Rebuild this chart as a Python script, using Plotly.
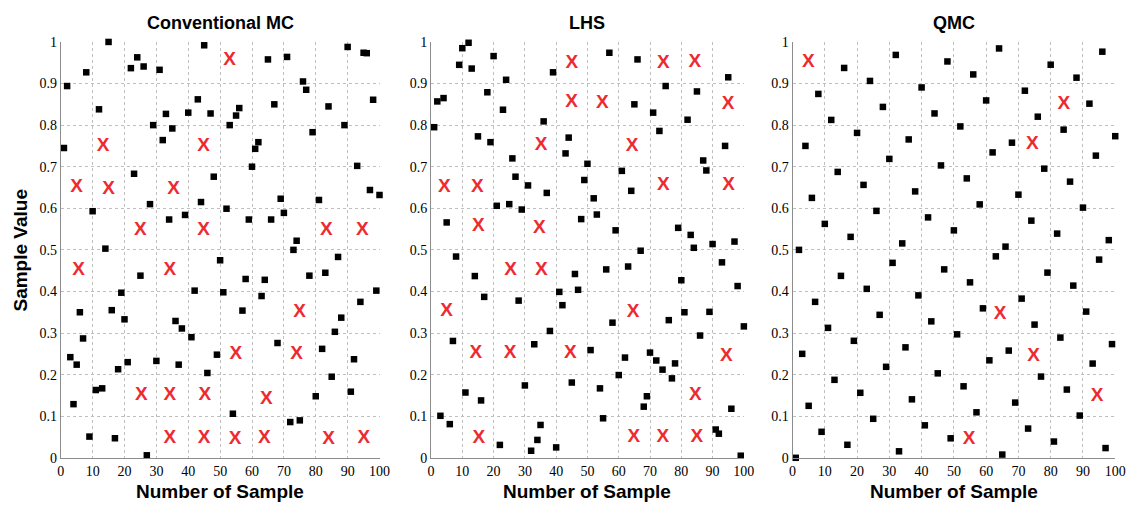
import plotly.graph_objects as go

sample_no = list(range(1, 101))

mc_values = [0.745, 0.894, 0.242, 0.129, 0.224, 0.35, 0.287, 0.927, 0.051, 0.593,
             0.163, 0.838, 0.167, 0.503, 1.0, 0.355, 0.047, 0.213, 0.397, 0.333,
             0.23, 0.937, 0.683, 0.963, 0.438, 0.941, 0.006, 0.61, 0.80, 0.233,
             0.933, 0.764, 0.827, 0.573, 0.792, 0.329, 0.224, 0.311, 0.584, 0.83,
             0.29, 0.402, 0.862, 0.615, 0.992, 0.204, 0.828, 0.676, 0.248, 0.475,
             0.398, 0.599, 0.80, 0.106, 0.823, 0.841, 0.354, 0.43, 0.573, 0.70,
             0.743, 0.759, 0.389, 0.428, 0.958, 0.573, 0.85, 0.276, 0.623, 0.589,
             0.964, 0.086, 0.50, 0.522, 0.09, 0.905, 0.885, 0.438, 0.783, 0.148,
             0.62, 0.262, 0.445, 0.845, 0.195, 0.303, 0.483, 0.337, 0.80, 0.988,
             0.159, 0.237, 0.702, 0.375, 0.974, 0.973, 0.644, 0.861, 0.402, 0.632]

lhs_values = [0.795, 0.857, 0.101, 0.865, 0.566, 0.081, 0.281, 0.484, 0.945, 0.985,
              0.157, 0.998, 0.936, 0.437, 0.773, 0.138, 0.387, 0.879, 0.759, 0.966,
              0.606, 0.031, 0.837, 0.909, 0.61, 0.72, 0.676, 0.378, 0.597, 0.174,
              0.655, 0.017, 0.273, 0.043, 0.079, 0.809, 0.637, 0.305, 0.927, 0.025,
              0.399, 0.367, 0.732, 0.770, 0.181, 0.442, 0.404, 0.574, 0.668, 0.707,
              0.259, 0.624, 0.585, 0.167, 0.095, 0.453, 0.974, 0.325, 0.547, 0.199,
              0.69, 0.241, 0.46, 0.642, 0.85, 0.958, 0.498, 0.123, 0.148, 0.253,
              0.83, 0.234, 0.786, 0.212, 0.894, 0.331, 0.191, 0.227, 0.553, 0.427,
              0.35, 0.813, 0.536, 0.505, 0.881, 0.294, 0.715, 0.691, 0.351, 0.514,
              0.068, 0.058, 0.47, 0.75, 0.915, 0.118, 0.52, 0.413, 0.005, 0.316]

qmc_values = [0.0, 0.5, 0.25, 0.75, 0.125, 0.625, 0.375, 0.875, 0.0625, 0.5625,
              0.3125, 0.8125, 0.1875, 0.6875, 0.4375, 0.9375, 0.0313, 0.5313, 0.2813, 0.7813,
              0.1563, 0.6563, 0.4063, 0.9063, 0.0938, 0.5938, 0.3438, 0.8438, 0.2188, 0.7188,
              0.4688, 0.9688, 0.0156, 0.5156, 0.2656, 0.7656, 0.1406, 0.6406, 0.3906, 0.8906,
              0.0781, 0.5781, 0.3281, 0.8281, 0.2031, 0.7031, 0.4531, 0.9531, 0.0469, 0.5469,
              0.2969, 0.7969, 0.1719, 0.6719, 0.4219, 0.9219, 0.1094, 0.6094, 0.3594, 0.8594,
              0.2344, 0.7344, 0.4844, 0.9844, 0.0078, 0.5078, 0.2578, 0.7578, 0.1328, 0.6328,
              0.3828, 0.8828, 0.0703, 0.5703, 0.3203, 0.8203, 0.1953, 0.6953, 0.4453, 0.9453,
              0.0391, 0.5391, 0.2891, 0.7891, 0.1641, 0.6641, 0.4141, 0.9141, 0.1016, 0.6016,
              0.3516, 0.8516, 0.2266, 0.7266, 0.4766, 0.9766, 0.0234, 0.5234, 0.2734, 0.7734]

# empty-cell markers "X"
mc_x_pos = [13.3, 5, 15, 35.4, 44.8, 25, 44.8, 53, 83.3, 94.6, 5.6, 34.2, 25.3, 34.2,
            45.2, 34.2, 45, 74.9, 54.9, 74, 64.5, 54.7, 63.9, 84, 95.1]
mc_x_val = [0.75, 0.65, 0.645, 0.645, 0.75, 0.547, 0.548, 0.955, 0.548, 0.548, 0.452, 0.452,
            0.151, 0.151, 0.151, 0.047, 0.047, 0.35, 0.248, 0.25, 0.141, 0.044, 0.046, 0.044, 0.046]

lhs_x_pos = [4.3, 14.8, 15.1, 35.2, 34.6, 45, 44.9, 74.3, 84.3, 54.8, 95, 64.3, 74.3, 95.1,
             5, 25.4, 35.3, 14.3, 25.3, 44.5, 15.3, 64.6, 94.4, 84.5, 64.8, 74.1, 85]
lhs_x_val = [0.65, 0.65, 0.556, 0.752, 0.552, 0.948, 0.855, 0.948, 0.95, 0.852, 0.849, 0.748,
             0.655, 0.655, 0.352, 0.452, 0.452, 0.252, 0.252, 0.251, 0.048, 0.35, 0.245,
             0.151, 0.05, 0.05, 0.05]

qmc_x_pos = [4.9, 84.1, 74.3, 64.3, 74.7, 94.4, 54.7]
qmc_x_val = [0.951, 0.851, 0.753, 0.346, 0.245, 0.148, 0.044]

titles = ["Conventional MC", "LHS", "QMC"]
x_ticks = [0, 10, 20, 30, 40, 50, 60, 70, 80, 90, 100]
y_ticks = [0, 0.1, 0.2, 0.3, 0.4, 0.5, 0.6, 0.7, 0.8, 0.9, 1]
y_tick_text = ["0", "0.1", "0.2", "0.3", "0.4", "0.5", "0.6", "0.7", "0.8", "0.9", "1"]

W, H = 1144, 516
x_domains = [(57.5, 380.5), (432.7, 749.7), (799, 1126)]
y_px = (464.3, 36.0)

panels = [(mc_values, mc_x_pos, mc_x_val), (lhs_values, lhs_x_pos, lhs_x_val),
          (qmc_values, qmc_x_pos, qmc_x_val)]

fig = go.Figure()
ydom = [(H - y_px[0]) / H, (H - y_px[1]) / H]
for i, (vals, xp, xv) in enumerate(panels):
    ax = "" if i == 0 else str(i + 1)
    fig.add_trace(go.Scatter(x=sample_no, y=vals, mode="markers",
                             marker=dict(symbol="square", size=6.5, color="black"),
                             xaxis="x" + ax, yaxis="y" + ax, showlegend=False,
                             cliponaxis=False))
    fig.add_trace(go.Scatter(x=xp, y=xv, mode="text", text=["X"] * len(xp),
                             textfont=dict(family="Liberation Sans, Arial", size=19,
                                           color="#ee2a30", weight="bold"),
                             xaxis="x" + ax, yaxis="y" + ax, showlegend=False,
                             cliponaxis=False))
    d = x_domains[i]
    axis_common = dict(showgrid=True, gridcolor="#bfbfbf", griddash="dot", gridwidth=1,
                       showline=True, linecolor="#8c8c8c", linewidth=1, zeroline=False,
                       ticks="", tickfont=dict(family="Liberation Serif, Times New Roman",
                                               size=14, color="black"))
    fig.update_layout(**{
        "xaxis" + ax: dict(domain=[d[0] / W, d[1] / W], range=[0, 100],
                           tickvals=x_ticks, anchor="y" + ax, **axis_common),
        "yaxis" + ax: dict(domain=ydom, range=[0, 1], tickvals=y_ticks,
                           ticktext=y_tick_text, anchor="x" + ax, **axis_common),
    })
    cx = (d[0] + d[1]) / 2 / W
    fig.add_annotation(x=cx, y=(H - 16) / H, xref="paper", yref="paper",
                       text="<b>%s</b>" % titles[i], showarrow=False,
                       font=dict(family="Liberation Sans, Arial", size=18, color="black"),
                       xanchor="center", yanchor="middle")
    fig.add_annotation(x=cx, y=(H - 499) / H, xref="paper", yref="paper",
                       text="<b>Number of Sample</b>", showarrow=False,
                       font=dict(family="Liberation Sans, Arial", size=19, color="black"),
                       xanchor="center", yanchor="middle")

fig.add_annotation(x=17 / W, y=(H - 250) / H, xref="paper", yref="paper",
                   text="<b>Sample Value</b>", showarrow=False, textangle=-90,
                   font=dict(family="Liberation Sans, Arial", size=19, color="black"),
                   xanchor="center", yanchor="middle")

fig.update_layout(autosize=True, margin=dict(l=0, r=0, t=0, b=0),
                  plot_bgcolor="white", paper_bgcolor="white")

pre = ("document.documentElement.style.margin='0';document.documentElement.style.overflow='hidden';"
       "document.body.style.margin='0';document.body.style.overflow='hidden';")
fig.write_html("out.html", config={"displayModeBar": False, "responsive": True},
               default_width="100vw", default_height="100vh",
               post_script=pre + "Plotly.Plots.resize(document.getElementById('{plot_id}'));")
